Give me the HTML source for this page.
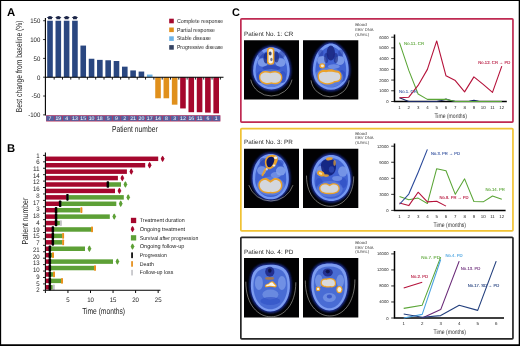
<!DOCTYPE html>
<html lang="en"><head><meta charset="utf-8"><title>Figure</title>
<style>html,body{margin:0;padding:0;background:#fff}body{width:520px;height:346px;overflow:hidden}svg{display:block}text{text-rendering:geometricPrecision;font-family:'Liberation Sans', sans-serif}</style>
</head><body>
<svg width="520" height="346" viewBox="0 0 520 346">
<defs>
<radialGradient id="head" cx="50%" cy="50%" r="50%"><stop offset="0" stop-color="#3e62d8"/><stop offset="0.55" stop-color="#3556cc"/><stop offset="0.8" stop-color="#5f86ee"/><stop offset="0.92" stop-color="#2f50c0"/><stop offset="1" stop-color="#0e1a66"/></radialGradient>
<filter id="b1" x="-20%" y="-20%" width="140%" height="140%"><feGaussianBlur stdDeviation="0.65"/></filter>
<filter id="b2" x="-20%" y="-20%" width="140%" height="140%"><feGaussianBlur stdDeviation="0.4"/></filter>
<filter id="b3" x="-20%" y="-20%" width="140%" height="140%"><feGaussianBlur stdDeviation="1.0"/></filter>
</defs>
<rect width="520" height="346" fill="#fff"/>
<g id="panelA">
<text transform="translate(7.0 15.8) scale(0.1)" font-size="114.0" fill="#000" font-weight="bold">A</text>
<rect x="47.20" y="20.73" width="5.6" height="56.48" fill="#2a4780"/>
<path d="M46.80 17.7 Q50.00 14.4 53.20 17.7 L52.00 18.0 L51.90 19.2 L48.10 19.2 L48.00 18.0 Z" fill="#1c2648"/>
<rect x="55.51" y="20.73" width="5.6" height="56.48" fill="#2a4780"/>
<path d="M55.11 17.7 Q58.31 14.4 61.51 17.7 L60.31 18.0 L60.21 19.2 L56.41 19.2 L56.31 18.0 Z" fill="#1c2648"/>
<rect x="63.82" y="20.73" width="5.6" height="56.48" fill="#2a4780"/>
<path d="M63.42 17.7 Q66.62 14.4 69.82 17.7 L68.62 18.0 L68.52 19.2 L64.72 19.2 L64.62 18.0 Z" fill="#1c2648"/>
<rect x="72.13" y="20.73" width="5.6" height="56.48" fill="#2a4780"/>
<path d="M71.73 17.7 Q74.93 14.4 78.13 17.7 L76.93 18.0 L76.83 19.2 L73.03 19.2 L72.93 18.0 Z" fill="#1c2648"/>
<rect x="80.44" y="45.57" width="5.6" height="31.63" fill="#2a4780"/>
<rect x="88.75" y="58.75" width="5.6" height="18.45" fill="#2a4780"/>
<rect x="97.06" y="59.88" width="5.6" height="17.32" fill="#2a4780"/>
<rect x="105.37" y="60.26" width="5.6" height="16.94" fill="#2a4780"/>
<rect x="113.68" y="61.01" width="5.6" height="16.19" fill="#2a4780"/>
<rect x="121.99" y="66.66" width="5.6" height="10.54" fill="#2a4780"/>
<rect x="130.30" y="70.42" width="5.6" height="6.78" fill="#2a4780"/>
<rect x="138.61" y="71.55" width="5.6" height="5.65" fill="#2a4780"/>
<rect x="146.92" y="74.56" width="5.6" height="2.64" fill="#6db3e6"/>
<rect x="155.23" y="77.20" width="5.6" height="21.08" fill="#e0901c"/>
<rect x="163.54" y="77.20" width="5.6" height="21.08" fill="#e0901c"/>
<rect x="171.85" y="77.20" width="5.6" height="27.48" fill="#e0901c"/>
<rect x="180.16" y="77.20" width="5.6" height="31.25" fill="#a5072d"/>
<rect x="188.47" y="77.20" width="5.6" height="35.01" fill="#a5072d"/>
<rect x="196.78" y="77.20" width="5.6" height="35.01" fill="#a5072d"/>
<rect x="205.09" y="77.20" width="5.6" height="35.39" fill="#a5072d"/>
<rect x="213.40" y="77.20" width="5.6" height="36.14" fill="#a5072d"/>
<path d="M45.4 18 V115.4 M45.4 77.2 H223.5" stroke="#000" stroke-width="1.1" fill="none"/>
<path d="M43.1 20.73 H45.4" stroke="#000" stroke-width="0.8"/>
<text transform="translate(40.3 23.08) scale(0.1)" font-size="66.0" fill="#222" text-anchor="end" textLength="101.3" lengthAdjust="spacingAndGlyphs">150</text>
<path d="M43.1 39.55 H45.4" stroke="#000" stroke-width="0.8"/>
<text transform="translate(40.3 41.9) scale(0.1)" font-size="66.0" fill="#222" text-anchor="end" textLength="101.3" lengthAdjust="spacingAndGlyphs">100</text>
<path d="M43.1 58.38 H45.4" stroke="#000" stroke-width="0.8"/>
<text transform="translate(40.3 60.73) scale(0.1)" font-size="66.0" fill="#222" text-anchor="end" textLength="67.5" lengthAdjust="spacingAndGlyphs">50</text>
<path d="M43.1 77.20 H45.4" stroke="#000" stroke-width="0.8"/>
<text transform="translate(40.3 79.55) scale(0.1)" font-size="66.0" fill="#222" text-anchor="end" textLength="33.8" lengthAdjust="spacingAndGlyphs">0</text>
<path d="M43.1 96.03 H45.4" stroke="#000" stroke-width="0.8"/>
<text transform="translate(40.3 98.38) scale(0.1)" font-size="66.0" fill="#222" text-anchor="end" textLength="87.7" lengthAdjust="spacingAndGlyphs">-50</text>
<path d="M43.1 114.85 H45.4" stroke="#000" stroke-width="0.8"/>
<text transform="translate(40.3 117.2) scale(0.1)" font-size="66.0" fill="#222" text-anchor="end" textLength="121.5" lengthAdjust="spacingAndGlyphs">-100</text>
<path d="M54.16 77.2 v2.4" stroke="#000" stroke-width="0.9"/>
<path d="M62.47 77.2 v2.4" stroke="#000" stroke-width="0.9"/>
<path d="M70.78 77.2 v2.4" stroke="#000" stroke-width="0.9"/>
<path d="M79.09 77.2 v2.4" stroke="#000" stroke-width="0.9"/>
<path d="M87.40 77.2 v2.4" stroke="#000" stroke-width="0.9"/>
<path d="M95.71 77.2 v2.4" stroke="#000" stroke-width="0.9"/>
<path d="M104.02 77.2 v2.4" stroke="#000" stroke-width="0.9"/>
<path d="M112.33 77.2 v2.4" stroke="#000" stroke-width="0.9"/>
<path d="M120.64 77.2 v2.4" stroke="#000" stroke-width="0.9"/>
<path d="M128.94 77.2 v2.4" stroke="#000" stroke-width="0.9"/>
<path d="M137.25 77.2 v2.4" stroke="#000" stroke-width="0.9"/>
<path d="M145.56 77.2 v2.4" stroke="#000" stroke-width="0.9"/>
<path d="M153.88 77.2 v2.4" stroke="#000" stroke-width="0.9"/>
<path d="M162.19 77.2 v2.4" stroke="#000" stroke-width="0.9"/>
<path d="M170.50 77.2 v2.4" stroke="#000" stroke-width="0.9"/>
<path d="M178.81 77.2 v2.4" stroke="#000" stroke-width="0.9"/>
<path d="M187.12 77.2 v2.4" stroke="#000" stroke-width="0.9"/>
<path d="M195.43 77.2 v2.4" stroke="#000" stroke-width="0.9"/>
<path d="M203.74 77.2 v2.4" stroke="#000" stroke-width="0.9"/>
<path d="M212.05 77.2 v2.4" stroke="#000" stroke-width="0.9"/>
<path d="M220.36 77.2 v2.4" stroke="#000" stroke-width="0.9"/>
<rect x="46.1" y="115.2" width="174.3" height="6.3" fill="#b8345f"/>
<rect x="46.30" y="115.8" width="7.61" height="5.1" fill="#56609f"/>
<text transform="translate(50.0 120.2) scale(0.1)" font-size="52.0" fill="#fff" text-anchor="middle">7</text>
<rect x="54.61" y="115.8" width="7.61" height="5.1" fill="#56609f"/>
<text transform="translate(58.31 120.2) scale(0.1)" font-size="52.0" fill="#fff" text-anchor="middle">19</text>
<rect x="62.92" y="115.8" width="7.61" height="5.1" fill="#56609f"/>
<text transform="translate(66.62 120.2) scale(0.1)" font-size="52.0" fill="#fff" text-anchor="middle">4</text>
<rect x="71.23" y="115.8" width="7.61" height="5.1" fill="#56609f"/>
<text transform="translate(74.93 120.2) scale(0.1)" font-size="52.0" fill="#fff" text-anchor="middle">13</text>
<rect x="79.54" y="115.8" width="7.61" height="5.1" fill="#56609f"/>
<text transform="translate(83.24 120.2) scale(0.1)" font-size="52.0" fill="#fff" text-anchor="middle">15</text>
<rect x="87.85" y="115.8" width="7.61" height="5.1" fill="#56609f"/>
<text transform="translate(91.55 120.2) scale(0.1)" font-size="52.0" fill="#fff" text-anchor="middle">10</text>
<rect x="96.16" y="115.8" width="7.61" height="5.1" fill="#56609f"/>
<text transform="translate(99.86 120.2) scale(0.1)" font-size="52.0" fill="#fff" text-anchor="middle">18</text>
<rect x="104.47" y="115.8" width="7.61" height="5.1" fill="#56609f"/>
<text transform="translate(108.17 120.2) scale(0.1)" font-size="52.0" fill="#fff" text-anchor="middle">5</text>
<rect x="112.78" y="115.8" width="7.61" height="5.1" fill="#56609f"/>
<text transform="translate(116.48 120.2) scale(0.1)" font-size="52.0" fill="#fff" text-anchor="middle">9</text>
<rect x="121.09" y="115.8" width="7.61" height="5.1" fill="#56609f"/>
<text transform="translate(124.79 120.2) scale(0.1)" font-size="52.0" fill="#fff" text-anchor="middle">2</text>
<rect x="129.40" y="115.8" width="7.61" height="5.1" fill="#56609f"/>
<text transform="translate(133.1 120.2) scale(0.1)" font-size="52.0" fill="#fff" text-anchor="middle">21</text>
<rect x="137.71" y="115.8" width="7.61" height="5.1" fill="#56609f"/>
<text transform="translate(141.41 120.2) scale(0.1)" font-size="52.0" fill="#fff" text-anchor="middle">20</text>
<rect x="146.01" y="115.8" width="7.61" height="5.1" fill="#56609f"/>
<text transform="translate(149.72 120.2) scale(0.1)" font-size="52.0" fill="#fff" text-anchor="middle">17</text>
<rect x="154.32" y="115.8" width="7.61" height="5.1" fill="#56609f"/>
<text transform="translate(158.03 120.2) scale(0.1)" font-size="52.0" fill="#fff" text-anchor="middle">14</text>
<rect x="162.63" y="115.8" width="7.61" height="5.1" fill="#56609f"/>
<text transform="translate(166.34 120.2) scale(0.1)" font-size="52.0" fill="#fff" text-anchor="middle">8</text>
<rect x="170.94" y="115.8" width="7.61" height="5.1" fill="#56609f"/>
<text transform="translate(174.65 120.2) scale(0.1)" font-size="52.0" fill="#fff" text-anchor="middle">3</text>
<rect x="179.25" y="115.8" width="7.61" height="5.1" fill="#56609f"/>
<text transform="translate(182.96 120.2) scale(0.1)" font-size="52.0" fill="#fff" text-anchor="middle">12</text>
<rect x="187.56" y="115.8" width="7.61" height="5.1" fill="#56609f"/>
<text transform="translate(191.27 120.2) scale(0.1)" font-size="52.0" fill="#fff" text-anchor="middle">16</text>
<rect x="195.88" y="115.8" width="7.61" height="5.1" fill="#56609f"/>
<text transform="translate(199.58 120.2) scale(0.1)" font-size="52.0" fill="#fff" text-anchor="middle">11</text>
<rect x="204.19" y="115.8" width="7.61" height="5.1" fill="#56609f"/>
<text transform="translate(207.89 120.2) scale(0.1)" font-size="52.0" fill="#fff" text-anchor="middle">6</text>
<rect x="212.50" y="115.8" width="7.61" height="5.1" fill="#56609f"/>
<text transform="translate(216.2 120.2) scale(0.1)" font-size="52.0" fill="#fff" text-anchor="middle">1</text>
<text transform="translate(134.8 131.5) scale(0.1)" font-size="88.0" fill="#222" text-anchor="middle" textLength="457.0" lengthAdjust="spacingAndGlyphs">Patient number</text>
<text transform="translate(22.1 66.4) rotate(-90) scale(0.1)" font-size="88.0" fill="#222" text-anchor="middle" textLength="916.0" lengthAdjust="spacingAndGlyphs">Best change from baseline (%)</text>
<rect x="169.2" y="18.70" width="4.6" height="4.6" fill="#a5072d"/>
<text transform="translate(176.9 22.8) scale(0.1)" font-size="58.0" fill="#222" textLength="463.0" lengthAdjust="spacingAndGlyphs">Complete response</text>
<rect x="169.2" y="27.50" width="4.6" height="4.6" fill="#e0901c"/>
<text transform="translate(176.9 31.6) scale(0.1)" font-size="58.0" fill="#222" textLength="380" lengthAdjust="spacingAndGlyphs">Partial response</text>
<rect x="169.2" y="36.30" width="4.6" height="4.6" fill="#6db3e6"/>
<text transform="translate(176.9 40.4) scale(0.1)" font-size="58.0" fill="#222" textLength="340" lengthAdjust="spacingAndGlyphs">Stable disease</text>
<rect x="169.2" y="45.10" width="4.6" height="4.6" fill="#364463"/>
<text transform="translate(176.9 49.2) scale(0.1)" font-size="58.0" fill="#222" textLength="463.0" lengthAdjust="spacingAndGlyphs">Progressive disease</text>
</g>
<g id="panelB">
<text transform="translate(7.0 151.9) scale(0.1)" font-size="113.0" fill="#000" font-weight="bold">B</text>
<rect x="45.4" y="156.55" width="112.80" height="4.5" fill="#a5072d"/>
<path d="M162.60 155.65 Q164.05 157.10 164.05 158.10 L164.75 158.80 L164.05 159.50 Q164.05 160.50 162.60 161.95 Q161.15 160.50 161.15 159.50 L160.70 158.80 L161.15 158.10 Q161.15 157.10 162.60 155.65 Z" fill="#a5072d"/>
<rect x="45.4" y="162.98" width="99.80" height="4.5" fill="#a5072d"/>
<path d="M149.60 162.08 Q151.05 163.53 151.05 164.53 L151.75 165.23 L151.05 165.93 Q151.05 166.93 149.60 168.38 Q148.15 166.93 148.15 165.93 L147.70 165.23 L148.15 164.53 Q148.15 163.53 149.60 162.08 Z" fill="#a5072d"/>
<rect x="45.4" y="169.40" width="81.50" height="4.5" fill="#a5072d"/>
<path d="M131.30 168.50 Q132.75 169.95 132.75 170.95 L133.45 171.65 L132.75 172.35 Q132.75 173.35 131.30 174.80 Q129.85 173.35 129.85 172.35 L129.40 171.65 L129.85 170.95 Q129.85 169.95 131.30 168.50 Z" fill="#a5072d"/>
<rect x="45.4" y="175.83" width="72.50" height="4.5" fill="#a5072d"/>
<path d="M122.30 174.93 Q123.75 176.38 123.75 177.38 L124.45 178.08 L123.75 178.78 Q123.75 179.78 122.30 181.23 Q120.85 179.78 120.85 178.78 L120.40 178.08 L120.85 177.38 Q120.85 176.38 122.30 174.93 Z" fill="#a5072d"/>
<rect x="45.4" y="182.25" width="61.60" height="4.5" fill="#a5072d"/>
<rect x="108.80" y="182.25" width="12.20" height="4.5" fill="#5da036"/>
<path d="M125.40 181.35 Q126.85 182.80 126.85 183.80 L127.55 184.50 L126.85 185.20 Q126.85 186.20 125.40 187.65 Q123.95 186.20 123.95 185.20 L123.50 184.50 L123.95 183.80 Q123.95 182.80 125.40 181.35 Z" fill="#5da036"/>
<rect x="45.4" y="188.68" width="69.60" height="4.5" fill="#a5072d"/>
<path d="M119.40 187.78 Q120.85 189.23 120.85 190.23 L121.55 190.93 L120.85 191.62 Q120.85 192.62 119.40 194.08 Q117.95 192.62 117.95 191.62 L117.50 190.93 L117.95 190.23 Q117.95 189.23 119.40 187.78 Z" fill="#a5072d"/>
<rect x="45.4" y="195.10" width="21.20" height="4.5" fill="#a5072d"/>
<rect x="68.40" y="195.10" width="55.40" height="4.5" fill="#5da036"/>
<path d="M128.20 194.20 Q129.65 195.65 129.65 196.65 L130.35 197.35 L129.65 198.05 Q129.65 199.05 128.20 200.50 Q126.75 199.05 126.75 198.05 L126.30 197.35 L126.75 196.65 Q126.75 195.65 128.20 194.20 Z" fill="#5da036"/>
<rect x="45.4" y="201.53" width="13.90" height="4.5" fill="#a5072d"/>
<rect x="61.10" y="201.53" width="55.20" height="4.5" fill="#5da036"/>
<path d="M120.70 200.62 Q122.15 202.08 122.15 203.08 L122.85 203.78 L122.15 204.47 Q122.15 205.47 120.70 206.93 Q119.25 205.47 119.25 204.47 L118.80 203.78 L119.25 203.08 Q119.25 202.08 120.70 200.62 Z" fill="#5da036"/>
<rect x="45.4" y="207.95" width="9.80" height="4.5" fill="#a5072d"/>
<rect x="57.00" y="207.95" width="23.40" height="4.5" fill="#5da036"/>
<rect x="80.40" y="207.35" width="2.0" height="5.7" rx="0.7" fill="#e8901a"/>
<rect x="45.4" y="214.38" width="9.80" height="4.5" fill="#a5072d"/>
<rect x="57.00" y="214.38" width="52.80" height="4.5" fill="#5da036"/>
<path d="M114.20 213.47 Q115.65 214.93 115.65 215.93 L116.35 216.62 L115.65 217.32 Q115.65 218.32 114.20 219.78 Q112.75 218.32 112.75 217.32 L112.30 216.62 L112.75 215.93 Q112.75 214.93 114.20 213.47 Z" fill="#5da036"/>
<rect x="45.4" y="220.80" width="9.80" height="4.5" fill="#a5072d"/>
<rect x="57.00" y="220.80" width="2.90" height="4.5" fill="#5da036"/>
<rect x="59.90" y="220.20" width="2.0" height="5.7" rx="0.7" fill="#c4c4c8"/>
<rect x="45.4" y="227.22" width="6.60" height="4.5" fill="#a5072d"/>
<rect x="53.80" y="227.22" width="37.20" height="4.5" fill="#5da036"/>
<rect x="91.00" y="226.62" width="2.0" height="5.7" rx="0.7" fill="#e8901a"/>
<rect x="45.4" y="233.65" width="6.60" height="4.5" fill="#a5072d"/>
<rect x="53.80" y="233.65" width="8.30" height="4.5" fill="#5da036"/>
<rect x="62.10" y="233.05" width="2.0" height="5.7" rx="0.7" fill="#e8901a"/>
<rect x="45.4" y="240.08" width="6.60" height="4.5" fill="#a5072d"/>
<rect x="53.80" y="240.08" width="8.30" height="4.5" fill="#5da036"/>
<rect x="62.10" y="239.48" width="2.0" height="5.7" rx="0.7" fill="#e8901a"/>
<rect x="45.4" y="246.50" width="3.60" height="4.5" fill="#a5072d"/>
<rect x="50.80" y="246.50" width="34.20" height="4.5" fill="#5da036"/>
<path d="M89.40 245.60 Q90.85 247.05 90.85 248.05 L91.55 248.75 L90.85 249.45 Q90.85 250.45 89.40 251.90 Q87.95 250.45 87.95 249.45 L87.50 248.75 L87.95 248.05 Q87.95 247.05 89.40 245.60 Z" fill="#5da036"/>
<rect x="45.4" y="252.93" width="3.60" height="4.5" fill="#a5072d"/>
<rect x="50.80" y="252.93" width="1.20" height="4.5" fill="#5da036"/>
<rect x="52.00" y="252.33" width="2.0" height="5.7" rx="0.7" fill="#e8901a"/>
<rect x="45.4" y="259.35" width="3.60" height="4.5" fill="#a5072d"/>
<rect x="50.80" y="259.35" width="62.20" height="4.5" fill="#5da036"/>
<path d="M117.40 258.45 Q118.85 259.90 118.85 260.90 L119.55 261.60 L118.85 262.30 Q118.85 263.30 117.40 264.75 Q115.95 263.30 115.95 262.30 L115.50 261.60 L115.95 260.90 Q115.95 259.90 117.40 258.45 Z" fill="#5da036"/>
<rect x="45.4" y="265.77" width="3.60" height="4.5" fill="#a5072d"/>
<rect x="50.80" y="265.77" width="43.20" height="4.5" fill="#5da036"/>
<rect x="94.00" y="265.17" width="2.0" height="5.7" rx="0.7" fill="#e8901a"/>
<rect x="45.4" y="272.20" width="3.60" height="4.5" fill="#a5072d"/>
<rect x="50.80" y="272.20" width="2.20" height="4.5" fill="#5da036"/>
<rect x="53.00" y="271.60" width="2.0" height="5.7" rx="0.7" fill="#e8901a"/>
<rect x="45.4" y="278.62" width="3.60" height="4.5" fill="#a5072d"/>
<rect x="50.80" y="278.62" width="10.20" height="4.5" fill="#5da036"/>
<rect x="61.00" y="278.02" width="2.0" height="5.7" rx="0.7" fill="#e8901a"/>
<rect x="45.4" y="285.05" width="3.60" height="4.5" fill="#a5072d"/>
<rect x="50.80" y="285.05" width="2.00" height="4.5" fill="#5da036"/>
<rect x="52.80" y="284.45" width="2.0" height="5.7" rx="0.7" fill="#c4c4c8"/>
<rect x="106.60" y="181.20" width="2.5" height="6.62" rx="0.8" fill="#000"/>
<rect x="66.20" y="194.05" width="2.5" height="6.62" rx="0.8" fill="#000"/>
<rect x="58.90" y="200.47" width="2.5" height="6.62" rx="0.8" fill="#000"/>
<rect x="54.80" y="206.90" width="2.5" height="6.62" rx="0.8" fill="#000"/>
<rect x="54.80" y="213.32" width="2.5" height="6.62" rx="0.8" fill="#000"/>
<rect x="54.80" y="219.75" width="2.5" height="6.62" rx="0.8" fill="#000"/>
<rect x="51.60" y="226.17" width="2.5" height="6.62" rx="0.8" fill="#000"/>
<rect x="51.60" y="232.60" width="2.5" height="6.62" rx="0.8" fill="#000"/>
<rect x="51.60" y="239.03" width="2.5" height="6.62" rx="0.8" fill="#000"/>
<rect x="48.60" y="245.45" width="2.5" height="6.62" rx="0.8" fill="#000"/>
<rect x="48.60" y="251.88" width="2.5" height="6.62" rx="0.8" fill="#000"/>
<rect x="48.60" y="258.30" width="2.5" height="6.62" rx="0.8" fill="#000"/>
<rect x="48.60" y="264.73" width="2.5" height="6.62" rx="0.8" fill="#000"/>
<rect x="48.60" y="271.15" width="2.5" height="6.62" rx="0.8" fill="#000"/>
<rect x="48.60" y="277.58" width="2.5" height="6.62" rx="0.8" fill="#000"/>
<rect x="48.60" y="284.00" width="2.5" height="6.62" rx="0.8" fill="#000"/>
<path d="M45.4 152.5 V290.32 H160.5" stroke="#000" stroke-width="1.05" fill="none"/>
<path d="M43.0 155.40 H45.4" stroke="#000" stroke-width="0.85"/>
<path d="M43.0 161.83 H45.4" stroke="#000" stroke-width="0.85"/>
<path d="M43.0 168.25 H45.4" stroke="#000" stroke-width="0.85"/>
<path d="M43.0 174.68 H45.4" stroke="#000" stroke-width="0.85"/>
<path d="M43.0 181.10 H45.4" stroke="#000" stroke-width="0.85"/>
<path d="M43.0 187.53 H45.4" stroke="#000" stroke-width="0.85"/>
<path d="M43.0 193.95 H45.4" stroke="#000" stroke-width="0.85"/>
<path d="M43.0 200.38 H45.4" stroke="#000" stroke-width="0.85"/>
<path d="M43.0 206.80 H45.4" stroke="#000" stroke-width="0.85"/>
<path d="M43.0 213.22 H45.4" stroke="#000" stroke-width="0.85"/>
<path d="M43.0 219.65 H45.4" stroke="#000" stroke-width="0.85"/>
<path d="M43.0 226.07 H45.4" stroke="#000" stroke-width="0.85"/>
<path d="M43.0 232.50 H45.4" stroke="#000" stroke-width="0.85"/>
<path d="M43.0 238.93 H45.4" stroke="#000" stroke-width="0.85"/>
<path d="M43.0 245.35 H45.4" stroke="#000" stroke-width="0.85"/>
<path d="M43.0 251.78 H45.4" stroke="#000" stroke-width="0.85"/>
<path d="M43.0 258.20 H45.4" stroke="#000" stroke-width="0.85"/>
<path d="M43.0 264.62 H45.4" stroke="#000" stroke-width="0.85"/>
<path d="M43.0 271.05 H45.4" stroke="#000" stroke-width="0.85"/>
<path d="M43.0 277.48 H45.4" stroke="#000" stroke-width="0.85"/>
<path d="M43.0 283.90 H45.4" stroke="#000" stroke-width="0.85"/>
<path d="M43.0 290.32 H45.4" stroke="#000" stroke-width="0.85"/>
<text transform="translate(39.699999999999996 157.5) scale(0.1)" font-size="66.0" fill="#222" text-anchor="end" textLength="33.8" lengthAdjust="spacingAndGlyphs">1</text>
<text transform="translate(39.699999999999996 164.25) scale(0.1)" font-size="66.0" fill="#222" text-anchor="end" textLength="33.8" lengthAdjust="spacingAndGlyphs">6</text>
<text transform="translate(39.699999999999996 170.99) scale(0.1)" font-size="66.0" fill="#222" text-anchor="end" textLength="67.5" lengthAdjust="spacingAndGlyphs">11</text>
<text transform="translate(39.699999999999996 177.73) scale(0.1)" font-size="66.0" fill="#222" text-anchor="end" textLength="67.5" lengthAdjust="spacingAndGlyphs">14</text>
<text transform="translate(39.699999999999996 184.48) scale(0.1)" font-size="66.0" fill="#222" text-anchor="end" textLength="67.5" lengthAdjust="spacingAndGlyphs">12</text>
<text transform="translate(39.699999999999996 191.22) scale(0.1)" font-size="66.0" fill="#222" text-anchor="end" textLength="67.5" lengthAdjust="spacingAndGlyphs">16</text>
<text transform="translate(39.699999999999996 197.97) scale(0.1)" font-size="66.0" fill="#222" text-anchor="end" textLength="33.8" lengthAdjust="spacingAndGlyphs">8</text>
<text transform="translate(39.699999999999996 204.72) scale(0.1)" font-size="66.0" fill="#222" text-anchor="end" textLength="67.5" lengthAdjust="spacingAndGlyphs">17</text>
<text transform="translate(39.699999999999996 211.46) scale(0.1)" font-size="66.0" fill="#222" text-anchor="end" textLength="33.8" lengthAdjust="spacingAndGlyphs">3</text>
<text transform="translate(39.699999999999996 218.21) scale(0.1)" font-size="66.0" fill="#222" text-anchor="end" textLength="67.5" lengthAdjust="spacingAndGlyphs">18</text>
<text transform="translate(39.699999999999996 224.95) scale(0.1)" font-size="66.0" fill="#222" text-anchor="end" textLength="33.8" lengthAdjust="spacingAndGlyphs">4</text>
<text transform="translate(39.699999999999996 231.7) scale(0.1)" font-size="66.0" fill="#222" text-anchor="end" textLength="67.5" lengthAdjust="spacingAndGlyphs">19</text>
<text transform="translate(39.699999999999996 238.44) scale(0.1)" font-size="66.0" fill="#222" text-anchor="end" textLength="67.5" lengthAdjust="spacingAndGlyphs">15</text>
<text transform="translate(39.699999999999996 245.19) scale(0.1)" font-size="66.0" fill="#222" text-anchor="end" textLength="33.8" lengthAdjust="spacingAndGlyphs">7</text>
<text transform="translate(39.699999999999996 251.93) scale(0.1)" font-size="66.0" fill="#222" text-anchor="end" textLength="67.5" lengthAdjust="spacingAndGlyphs">21</text>
<text transform="translate(39.699999999999996 258.68) scale(0.1)" font-size="66.0" fill="#222" text-anchor="end" textLength="67.5" lengthAdjust="spacingAndGlyphs">20</text>
<text transform="translate(39.699999999999996 265.42) scale(0.1)" font-size="66.0" fill="#222" text-anchor="end" textLength="67.5" lengthAdjust="spacingAndGlyphs">13</text>
<text transform="translate(39.699999999999996 272.17) scale(0.1)" font-size="66.0" fill="#222" text-anchor="end" textLength="67.5" lengthAdjust="spacingAndGlyphs">10</text>
<text transform="translate(39.699999999999996 278.91) scale(0.1)" font-size="66.0" fill="#222" text-anchor="end" textLength="33.8" lengthAdjust="spacingAndGlyphs">9</text>
<text transform="translate(39.699999999999996 285.66) scale(0.1)" font-size="66.0" fill="#222" text-anchor="end" textLength="33.8" lengthAdjust="spacingAndGlyphs">5</text>
<text transform="translate(39.699999999999996 292.4) scale(0.1)" font-size="66.0" fill="#222" text-anchor="end" textLength="33.8" lengthAdjust="spacingAndGlyphs">2</text>
<path d="M45.40 290.32 v2.7" stroke="#000" stroke-width="0.95"/>
<path d="M67.95 290.32 v2.7" stroke="#000" stroke-width="0.95"/>
<text transform="translate(67.95 301.93) scale(0.1)" font-size="66.0" fill="#222" text-anchor="middle" textLength="33.8" lengthAdjust="spacingAndGlyphs">5</text>
<path d="M90.50 290.32 v2.7" stroke="#000" stroke-width="0.95"/>
<text transform="translate(90.5 301.93) scale(0.1)" font-size="66.0" fill="#222" text-anchor="middle" textLength="67.5" lengthAdjust="spacingAndGlyphs">10</text>
<path d="M113.05 290.32 v2.7" stroke="#000" stroke-width="0.95"/>
<text transform="translate(113.05 301.93) scale(0.1)" font-size="66.0" fill="#222" text-anchor="middle" textLength="67.5" lengthAdjust="spacingAndGlyphs">15</text>
<path d="M135.60 290.32 v2.7" stroke="#000" stroke-width="0.95"/>
<text transform="translate(135.6 301.93) scale(0.1)" font-size="66.0" fill="#222" text-anchor="middle" textLength="67.5" lengthAdjust="spacingAndGlyphs">20</text>
<path d="M158.15 290.32 v2.7" stroke="#000" stroke-width="0.95"/>
<text transform="translate(158.15 301.93) scale(0.1)" font-size="66.0" fill="#222" text-anchor="middle" textLength="67.5" lengthAdjust="spacingAndGlyphs">25</text>
<text transform="translate(103.6 313.5) scale(0.1)" font-size="88.0" fill="#222" text-anchor="middle" textLength="429.0" lengthAdjust="spacingAndGlyphs">Time (months)</text>
<text transform="translate(27.9 221.2) rotate(-90) scale(0.1)" font-size="88.0" fill="#222" text-anchor="middle" textLength="468.0" lengthAdjust="spacingAndGlyphs">Patient number</text>
<rect x="130.9" y="217.80" width="5.3" height="5.3" fill="#a5072d"/>
<text transform="translate(139.8 222.2) scale(0.1)" font-size="56.0" fill="#222" textLength="448.0" lengthAdjust="spacingAndGlyphs">Treatment duration</text>
<path d="M132.50 226.00 Q133.95 227.45 133.95 228.45 L134.65 229.15 L133.95 229.85 Q133.95 230.85 132.50 232.30 Q131.05 230.85 131.05 229.85 L130.60 229.15 L131.05 228.45 Q131.05 227.45 132.50 226.00 Z" fill="#a5072d"/>
<text transform="translate(139.8 230.9) scale(0.1)" font-size="56.0" fill="#222" textLength="452.0" lengthAdjust="spacingAndGlyphs">Ongoing treatment</text>
<rect x="130.9" y="235.20" width="5.3" height="5.3" fill="#5da036"/>
<text transform="translate(139.8 239.6) scale(0.1)" font-size="56.0" fill="#222" textLength="585.0" lengthAdjust="spacingAndGlyphs">Survival after progression</text>
<path d="M132.50 243.40 Q133.95 244.85 133.95 245.85 L134.65 246.55 L133.95 247.25 Q133.95 248.25 132.50 249.70 Q131.05 248.25 131.05 247.25 L130.60 246.55 L131.05 245.85 Q131.05 244.85 132.50 243.40 Z" fill="#5da036"/>
<text transform="translate(139.8 248.3) scale(0.1)" font-size="56.0" fill="#222" textLength="445.0" lengthAdjust="spacingAndGlyphs">Ongoing follow-up</text>
<rect x="131.20000000000002" y="252.35" width="1.7" height="5.8" rx="0.6" fill="#000"/>
<text transform="translate(139.8 257.0) scale(0.1)" font-size="56.0" fill="#222" textLength="270" lengthAdjust="spacingAndGlyphs">Progression</text>
<rect x="131.20000000000002" y="261.05" width="1.7" height="5.8" rx="0.6" fill="#e48b14"/>
<text transform="translate(139.8 265.7) scale(0.1)" font-size="56.0" fill="#222" textLength="140" lengthAdjust="spacingAndGlyphs">Death</text>
<rect x="131.20000000000002" y="269.75" width="1.7" height="5.8" rx="0.6" fill="#c4c4c8"/>
<text transform="translate(139.8 274.4) scale(0.1)" font-size="56.0" fill="#222" textLength="335.0" lengthAdjust="spacingAndGlyphs">Follow-up loss</text>
</g>
<g id="panelC">
<text transform="translate(232.1 15.8) scale(0.1)" font-size="110.0" fill="#000" font-weight="bold">C</text>
<rect x="240.85" y="18.95" width="272.1" height="103.20" rx="0.9" fill="#fff" stroke="#bf2a52" stroke-width="1.7"/>
<text transform="translate(244.0 35.6) scale(0.1)" font-size="63.0" fill="#2a2a2a" textLength="493.0" lengthAdjust="spacingAndGlyphs">Patient No. 1: CR</text>
<svg x="244.0" y="40.2" width="55.0" height="59.4" viewBox="244.0 40.2 55.0 59.4">
<rect x="243.0" y="39.2" width="57.0" height="61.4" fill="#020203"/>
<g filter="url(#b3)">
<path d="M251.60 71.00 C251.60 55.38 261.10 45.80 271.40 45.80 C281.70 45.80 291.20 55.38 291.20 71.00 C291.20 81.99 282.34 90.90 271.40 90.90 C260.46 90.90 251.60 81.99 251.60 71.00 Z" fill="#1a2e96"/>
</g>
<g filter="url(#b1)">
<path d="M253.10 71.00 C253.10 56.31 261.88 47.30 271.40 47.30 C280.92 47.30 289.70 56.31 289.70 71.00 C289.70 81.16 281.51 89.40 271.40 89.40 C261.29 89.40 253.10 81.16 253.10 71.00 Z" fill="#7598f2"/>
<path d="M255.60 71.40 C255.60 58.38 263.18 50.40 271.40 50.40 C279.62 50.40 287.20 58.38 287.20 71.40 C287.20 80.07 280.13 87.10 271.40 87.10 C262.67 87.10 255.60 80.07 255.60 71.40 Z" fill="#3f62d2"/>
</g>
<g filter="url(#b2)">
<ellipse cx="262.9" cy="62.5" rx="5.2" ry="4.2" fill="#8aa8ee" opacity="0.8"/>
<ellipse cx="280.4" cy="62.5" rx="5.2" ry="4.2" fill="#8aa8ee" opacity="0.8"/>
<ellipse cx="266.4" cy="58" rx="3" ry="5.5" fill="#16237e" opacity="0.75"/>
<ellipse cx="276.4" cy="57" rx="2.6" ry="5.5" fill="#16237e" opacity="0.7"/>
<ellipse cx="271.4" cy="68" rx="9" ry="3" fill="#2a44b4" opacity="0.7"/>
<ellipse cx="271.4" cy="78.5" rx="14.5" ry="9.5" fill="#8aa8ee" opacity="0.35"/>
<ellipse cx="260.9" cy="54.5" rx="3" ry="3.5" fill="#2338a0" opacity="0.5"/>
<ellipse cx="281.9" cy="54.5" rx="3" ry="3.5" fill="#2338a0" opacity="0.5"/>
<ellipse cx="260.4" cy="77" rx="4" ry="6" fill="#2f4fc4" opacity="0.8"/>
<ellipse cx="282.4" cy="77" rx="4" ry="6" fill="#2f4fc4" opacity="0.8"/>
<g transform="translate(270.7 77.8) scale(1.07 1.1) translate(-270.7 -78.1)">
<path d="M259.8 77.5 C259.8 72.5 265 71 270.2 72.6 C275 71 281.6 72.5 281.6 77.8 C281.6 83 276 85 271.4 83.6 C266 85.4 259.8 83 259.8 77.5 Z" fill="#eaa22c"/>
<path d="M261.0 77.6 C261.0 73.8 265.4 72.4 270.2 74.0 C274.8 72.4 280.4 73.8 280.4 77.8 C280.4 81.8 276 83.6 271.4 82.2 C266.4 84.0 261.0 81.8 261.0 77.6 Z" fill="#d4d7dc"/>
</g>
<rect x="267.0" y="47.4" width="7.4" height="17.4" rx="3.2" fill="#eaa22c"/>
<rect x="268.5" y="48.8" width="4.4" height="14.6" rx="2" fill="#f4f1ea"/>
<ellipse cx="270.2" cy="53.5" rx="1.4" ry="2.0" fill="#2a2f55" opacity="0.85"/>
<ellipse cx="271.4" cy="59.5" rx="1.1" ry="1.8" fill="#3a3f60" opacity="0.7"/>
</g>
<path d="M250.7 79.6 A21.2 21.2 0 0 0 292.0 79.6" stroke="#dcdcd6" stroke-width="0.55" fill="none" opacity="0.9"/>
</svg>
<svg x="303.0" y="40.2" width="55.3" height="59.4" viewBox="303.0 40.2 55.3 59.4">
<rect x="302.0" y="39.2" width="57.3" height="61.4" fill="#020203"/>
<g filter="url(#b3)">
<path d="M311.40 70.50 C311.40 52.83 322.26 42.00 330.80 42.00 C339.34 42.00 350.20 52.83 350.20 70.50 C350.20 81.99 341.51 91.30 330.80 91.30 C320.09 91.30 311.40 81.99 311.40 70.50 Z" fill="#1a2e96"/>
</g>
<g filter="url(#b1)">
<path d="M312.90 70.50 C312.90 53.76 322.92 43.50 330.80 43.50 C338.68 43.50 348.70 53.76 348.70 70.50 C348.70 81.16 340.69 89.80 330.80 89.80 C320.91 89.80 312.90 81.16 312.90 70.50 Z" fill="#7598f2"/>
<path d="M315.40 70.90 C315.40 55.83 324.02 46.60 330.80 46.60 C337.58 46.60 346.20 55.83 346.20 70.90 C346.20 80.07 339.31 87.50 330.80 87.50 C322.29 87.50 315.40 80.07 315.40 70.90 Z" fill="#3f62d2"/>
</g>
<g filter="url(#b2)">
<ellipse cx="321.8" cy="60.5" rx="4.6" ry="4.5" fill="#8aa8ee" opacity="0.8"/>
<ellipse cx="339.8" cy="60.5" rx="4.6" ry="4.5" fill="#8aa8ee" opacity="0.8"/>
<ellipse cx="330.8" cy="53" rx="4.2" ry="7.5" fill="#16237e" opacity="0.85"/>
<ellipse cx="326.3" cy="58" rx="2.2" ry="5" fill="#16237e" opacity="0.6"/>
<ellipse cx="335.8" cy="58" rx="2.2" ry="5" fill="#16237e" opacity="0.6"/>
<ellipse cx="341.8" cy="76" rx="4" ry="6" fill="#2f4fc4" opacity="0.8"/>
<ellipse cx="333.8" cy="66.5" rx="6" ry="2.2" fill="#8aa8ee" opacity="0.6"/>
<ellipse cx="328.8" cy="77.5" rx="14.5" ry="10" fill="#8aa8ee" opacity="0.35"/>
<ellipse cx="320.8" cy="53" rx="2.6" ry="3.5" fill="#2338a0" opacity="0.5"/>
<ellipse cx="340.8" cy="53" rx="2.6" ry="3.5" fill="#2338a0" opacity="0.5"/>
<path d="M317.6 76.5 C317.2 71.5 322 68.6 326.5 70.0 C330 68.4 334 69.6 336 70.6 C340 70.6 341.8 73.5 341.6 77 C341.6 81 338 82.6 334.5 82.4 C332 84.6 326 85.4 322.6 83.4 C319 82.6 317.8 80 317.6 76.5 Z" fill="#eaa22c"/>
<path d="M318.9 76.6 C318.6 73.4 322 71.4 326 72.2 C330 71.2 334 72.0 336 72.4 C339 72.4 340.4 74.4 340.3 77 C340.2 80 337.6 81.2 334.2 81.0 C331.6 83.2 326.4 84.0 323.2 82.2 C320.2 81.6 319.0 79.4 318.9 76.6 Z" fill="#d4d7dc"/>
<ellipse cx="322.2" cy="65.8" rx="2.9" ry="2.6" fill="#eaa22c"/>
<ellipse cx="322.4" cy="65.8" rx="1.6" ry="1.4" fill="#efe9d6"/>
</g>
<path d="M311.0 80.3 A19.3 19.3 0 0 0 349.2 80.3" stroke="#dcdcd6" stroke-width="0.55" fill="none" opacity="0.9"/>
</svg>
<text transform="translate(355.3 25.9) scale(0.1)" font-size="42.0" fill="#444" textLength="115.0" lengthAdjust="spacingAndGlyphs">Blood</text>
<text transform="translate(355.3 30.8) scale(0.1)" font-size="42.0" fill="#444" textLength="181.0" lengthAdjust="spacingAndGlyphs">EBV DNA</text>
<text transform="translate(355.3 35.7) scale(0.1)" font-size="42.0" fill="#444" textLength="139.0" lengthAdjust="spacingAndGlyphs">(IU/mL)</text>
<rect x="240.85" y="128.65" width="272.1" height="102.20" rx="0.9" fill="#fff" stroke="#f0c234" stroke-width="1.7"/>
<text transform="translate(244.0 144.1) scale(0.1)" font-size="63.0" fill="#2a2a2a" textLength="488.0" lengthAdjust="spacingAndGlyphs">Patient No. 3: PR</text>
<svg x="244.0" y="148.7" width="55.0" height="59.4" viewBox="244.0 148.7 55.0 59.4">
<rect x="243.0" y="147.7" width="57.0" height="61.4" fill="#020203"/>
<g filter="url(#b3)">
<path d="M251.10 179.00 C251.10 162.57 259.92 152.50 270.70 152.50 C281.48 152.50 290.30 162.57 290.30 179.00 C290.30 191.04 281.53 200.80 270.70 200.80 C259.87 200.80 251.10 191.04 251.10 179.00 Z" fill="#1a2e96"/>
</g>
<g filter="url(#b1)">
<path d="M252.60 179.00 C252.60 163.50 260.75 154.00 270.70 154.00 C280.65 154.00 288.80 163.50 288.80 179.00 C288.80 190.21 280.70 199.30 270.70 199.30 C260.70 199.30 252.60 190.21 252.60 179.00 Z" fill="#7598f2"/>
<path d="M255.10 179.40 C255.10 165.57 262.12 157.10 270.70 157.10 C279.28 157.10 286.30 165.57 286.30 179.40 C286.30 189.12 279.32 197.00 270.70 197.00 C262.08 197.00 255.10 189.12 255.10 179.40 Z" fill="#3f62d2"/>
</g>
<g filter="url(#b2)">
<ellipse cx="261.7" cy="170.5" rx="4.6" ry="4.2" fill="#8aa8ee" opacity="0.7"/>
<ellipse cx="280.7" cy="171" rx="4.8" ry="4.6" fill="#8aa8ee" opacity="0.8"/>
<ellipse cx="280.2" cy="163" rx="3.5" ry="3" fill="#2f4fc4" opacity="0.7"/>
<ellipse cx="275.7" cy="175" rx="5" ry="3" fill="#8aa8ee" opacity="0.6"/>
<ellipse cx="270.7" cy="186" rx="14" ry="9.5" fill="#8aa8ee" opacity="0.35"/>
<ellipse cx="262.7" cy="162" rx="3" ry="4" fill="#2338a0" opacity="0.5"/>
<path d="M266.0 168.6 C264.4 171 263.4 173.4 262.4 175.2" stroke="#eaa22c" stroke-width="2.0" fill="none" stroke-linecap="round" opacity="0.9"/>
<path d="M265.0 163.8 C264.0 158.4 268 154.6 272.6 154.8 C277.0 154.8 279.0 157.8 277.2 161.8 C275.8 165.2 274 167.8 270.6 169.0 C267.4 170.0 265.6 167.6 265.0 163.8 Z" fill="#eaa22c"/>
<path d="M266.6 163.4 C266.0 159.6 268.4 156.6 271.4 156.8 C274.2 157.0 275.0 159.4 273.8 162.2 C272.8 164.8 271.6 166.8 269.6 167.2 C267.8 167.4 267.0 165.8 266.6 163.4 Z" fill="#0e175e"/>
<ellipse cx="275.6" cy="157.8" rx="1.7" ry="1.2" fill="#f4f1ea"/>
<ellipse cx="274.0" cy="165.4" rx="1.4" ry="1.0" fill="#f4f1ea" opacity="0.9"/>
<ellipse cx="266.8" cy="169.2" rx="1.0" ry="1.3" fill="#f4f1ea" opacity="0.7"/>
<path d="M258.4 185.8 C258.0 180.2 263.2 176.8 267.4 178.4 L270.4 180.4 L273.4 178.4 C277.8 176.8 282.8 180.2 282.4 185.8 C282.2 191.2 276.4 194.2 270.8 193.2 C264.4 194.4 258.6 191.2 258.4 185.8 Z" fill="#eaa22c"/>
<path d="M259.8 185.8 C259.5 181.6 263.5 179.0 267.0 180.4 L270.4 182.8 L273.8 180.4 C277.4 179.0 281.3 181.6 281.0 185.8 C280.8 190.0 276.0 192.7 270.8 191.7 C265.2 192.9 260.0 190.2 259.8 185.8 Z" fill="#d4d7dc"/>
</g>
<path d="M248.8 185.1 A23.3 23.3 0 0 0 293.0 185.1" stroke="#dcdcd6" stroke-width="0.55" fill="none" opacity="0.9"/>
</svg>
<svg x="303.0" y="148.7" width="55.3" height="59.4" viewBox="303.0 148.7 55.3 59.4">
<rect x="302.0" y="147.7" width="57.3" height="61.4" fill="#020203"/>
<g filter="url(#b3)">
<path d="M310.40 180.50 C310.40 163.76 319.76 153.50 331.20 153.50 C342.64 153.50 352.00 163.76 352.00 180.50 C352.00 192.65 342.69 202.50 331.20 202.50 C319.71 202.50 310.40 192.65 310.40 180.50 Z" fill="#1a2e96"/>
</g>
<g filter="url(#b1)">
<path d="M311.90 180.50 C311.90 164.69 320.58 155.00 331.20 155.00 C341.81 155.00 350.50 164.69 350.50 180.50 C350.50 191.82 341.86 201.00 331.20 201.00 C320.54 201.00 311.90 191.82 311.90 180.50 Z" fill="#7598f2"/>
<path d="M314.40 180.90 C314.40 166.76 321.96 158.10 331.20 158.10 C340.44 158.10 348.00 166.76 348.00 180.90 C348.00 190.73 340.48 198.70 331.20 198.70 C321.92 198.70 314.40 190.73 314.40 180.90 Z" fill="#3f62d2"/>
</g>
<g filter="url(#b2)">
<ellipse cx="320.2" cy="171" rx="4" ry="5" fill="#8aa8ee" opacity="0.7"/>
<ellipse cx="342.7" cy="171.5" rx="4.6" ry="5.2" fill="#8aa8ee" opacity="0.7"/>
<ellipse cx="343.2" cy="183" rx="3.6" ry="5" fill="#2f4fc4" opacity="0.7"/>
<ellipse cx="319.2" cy="183" rx="3.6" ry="5" fill="#2f4fc4" opacity="0.7"/>
<ellipse cx="337.2" cy="178.5" rx="5" ry="2.4" fill="#8aa8ee" opacity="0.6"/>
<ellipse cx="329.7" cy="189" rx="13" ry="8" fill="#8aa8ee" opacity="0.3"/>
<path d="M321.0 166 C320.6 160.8 325 158.6 329 159.4 C333 158.4 336.4 161 336 166.4 C336.2 171.6 333 176 328.4 175.6 C324 175.6 321.2 171.4 321.0 166 Z" fill="#13207a" opacity="0.88"/>
<ellipse cx="331.5" cy="169.5" rx="2.6" ry="3.2" fill="#3556c4" opacity="0.55"/>
<ellipse cx="329.4" cy="158.8" rx="3.4" ry="1.5" fill="#eaa22c" opacity="0.95" transform="rotate(-10 329.4 158.8)"/>
<ellipse cx="334.6" cy="163" rx="1.3" ry="3" fill="#eaa22c" opacity="0.7"/>
<ellipse cx="320.8" cy="173.6" rx="3.8" ry="2.6" fill="#eaa22c" transform="rotate(25 320.8 173.6)"/>
<ellipse cx="326" cy="175.6" rx="3" ry="1.4" fill="#eaa22c" opacity="0.85"/>
<ellipse cx="320.6" cy="173.4" rx="1.8" ry="1.1" fill="#f1e2b8" opacity="0.9" transform="rotate(25 320.6 173.4)"/>
<path d="M319.2 188.6 C319.0 184.6 323.4 182.4 327.4 183.4 L329.6 184.4 L331.8 183.4 C335.8 182.4 340.0 184.6 339.8 188.6 C339.6 192.6 335.4 194.6 329.6 194.2 C323.6 194.6 319.4 192.6 319.2 188.6 Z" fill="#eaa22c"/>
<path d="M320.5 188.6 C320.4 185.6 323.8 184.0 327.0 184.8 L329.6 186.2 L332.2 184.8 C335.4 184.0 338.6 185.6 338.5 188.6 C338.4 191.6 334.8 193.2 329.6 192.8 C324.2 193.2 320.6 191.6 320.5 188.6 Z" fill="#d4d7dc"/>
</g>
<path d="M306.5 175.6 C306.5 216.4 353.7 216.4 353.7 176.4" stroke="#dcdcd6" stroke-width="0.55" fill="none" opacity="0.9"/>
</svg>
<text transform="translate(355.3 134.5) scale(0.1)" font-size="42.0" fill="#444" textLength="115.0" lengthAdjust="spacingAndGlyphs">Blood</text>
<text transform="translate(355.3 139.4) scale(0.1)" font-size="42.0" fill="#444" textLength="181.0" lengthAdjust="spacingAndGlyphs">EBV DNA</text>
<text transform="translate(355.3 144.3) scale(0.1)" font-size="42.0" fill="#444" textLength="139.0" lengthAdjust="spacingAndGlyphs">(IU/mL)</text>
<rect x="240.85" y="237.35" width="272.1" height="101.60" rx="0.9" fill="#fff" stroke="#262626" stroke-width="1.7"/>
<text transform="translate(244.0 253.5) scale(0.1)" font-size="63.0" fill="#2a2a2a" textLength="493.0" lengthAdjust="spacingAndGlyphs">Patient No. 4: PD</text>
<svg x="244.0" y="258.1" width="55.0" height="59.4" viewBox="244.0 258.1 55.0 59.4">
<rect x="243.0" y="257.1" width="57.0" height="61.4" fill="#020203"/>
<g filter="url(#b3)">
<path d="M249.40 286.00 C249.40 271.86 253.60 263.20 270.40 263.20 C287.20 263.20 291.40 271.86 291.40 286.00 C291.40 300.91 282.00 313.00 270.40 313.00 C258.80 313.00 249.40 300.91 249.40 286.00 Z" fill="#1a2e96"/>
</g>
<g filter="url(#b1)">
<path d="M250.90 286.00 C250.90 272.79 254.80 264.70 270.40 264.70 C286.00 264.70 289.90 272.79 289.90 286.00 C289.90 300.08 281.17 311.50 270.40 311.50 C259.63 311.50 250.90 300.08 250.90 286.00 Z" fill="#7c9cf0"/>
<path d="M253.40 286.40 C253.40 274.87 256.80 267.80 270.40 267.80 C284.00 267.80 287.40 274.87 287.40 286.40 C287.40 298.99 279.79 309.20 270.40 309.20 C261.01 309.20 253.40 298.99 253.40 286.40 Z" fill="#4a6cd4"/>
</g>
<g filter="url(#b2)">
<ellipse cx="258.9" cy="283" rx="4" ry="7" fill="#8aa8ee" opacity="0.6"/>
<ellipse cx="281.9" cy="283" rx="4" ry="7" fill="#8aa8ee" opacity="0.6"/>
<ellipse cx="270.4" cy="294.5" rx="8" ry="5" fill="#8aa8ee" opacity="0.5"/>
<ellipse cx="270.4" cy="301" rx="10" ry="4" fill="#2f4fc4" opacity="0.6"/>
<ellipse cx="269.8" cy="271.8" rx="4.6" ry="5.0" fill="#16237e" opacity="0.8"/>
<ellipse cx="269.8" cy="270.6" rx="1.8" ry="2.2" fill="#0a0f3c" opacity="0.8"/>
<ellipse cx="269.6" cy="278.4" rx="4.6" ry="1.3" fill="#b07a3c" opacity="0.85"/>
<path d="M264.9 286.4 C264.6 284.6 266.6 283.8 268.4 283.4 C269.8 282.0 271.2 281.0 272.6 281.2 C274.0 281.6 274.6 283.4 276.0 284.4 C277.2 285.4 276.8 287.2 275.2 287.4 C272.8 287.0 270.8 286.6 269.4 286.8 C267.8 287.2 265.4 287.8 264.9 286.4 Z" fill="#eaa22c"/>
<path d="M266.1 285.9 C266.0 284.9 267.4 284.6 268.8 284.3 C270.0 283.2 271.2 282.2 272.3 282.4 C273.3 282.8 273.8 284.2 275.0 285.0 C275.8 285.6 275.5 286.3 274.8 286.3 C272.8 286.0 270.8 285.6 269.4 285.8 C268.0 286.1 266.4 286.6 266.1 285.9 Z" fill="#f8f6ee"/>
</g>
<path d="M245.8 281.7 C245.8 328.4 295.8 328.4 295.8 282.3" stroke="#dcdcd6" stroke-width="0.55" fill="none" opacity="0.9"/>
</svg>
<svg x="303.0" y="258.1" width="55.3" height="59.4" viewBox="303.0 258.1 55.3 59.4">
<rect x="302.0" y="257.1" width="57.3" height="61.4" fill="#020203"/>
<g filter="url(#b3)">
<path d="M309.80 285.00 C309.80 270.74 314.11 262.00 329.40 262.00 C344.69 262.00 349.00 270.74 349.00 285.00 C349.00 299.91 340.23 312.00 329.40 312.00 C318.57 312.00 309.80 299.91 309.80 285.00 Z" fill="#1a2e96"/>
</g>
<g filter="url(#b1)">
<path d="M311.30 285.00 C311.30 271.67 315.28 263.50 329.40 263.50 C343.52 263.50 347.50 271.67 347.50 285.00 C347.50 299.08 339.40 310.50 329.40 310.50 C319.40 310.50 311.30 299.08 311.30 285.00 Z" fill="#7c9cf0"/>
<path d="M313.80 285.40 C313.80 273.74 317.23 266.60 329.40 266.60 C341.57 266.60 345.00 273.74 345.00 285.40 C345.00 297.99 338.02 308.20 329.40 308.20 C320.78 308.20 313.80 297.99 313.80 285.40 Z" fill="#4a6cd4"/>
</g>
<g filter="url(#b2)">
<ellipse cx="318.9" cy="281" rx="3.8" ry="6.5" fill="#8aa8ee" opacity="0.6"/>
<ellipse cx="340.2" cy="281" rx="3.8" ry="6.5" fill="#8aa8ee" opacity="0.6"/>
<ellipse cx="329.4" cy="297.5" rx="6.5" ry="4.6" fill="#8aa8ee" opacity="0.55"/>
<ellipse cx="329.4" cy="296.6" rx="2.6" ry="2" fill="#2f4fc4" opacity="0.8"/>
<ellipse cx="327.8" cy="272.4" rx="5.0" ry="4.0" fill="#16237e" opacity="0.8"/>
<ellipse cx="327.8" cy="271.6" rx="2.2" ry="1.8" fill="#0a0f3c" opacity="0.8"/>
<path d="M320.6 283.4 C320.2 280 323 278.2 326 278.6 C328 277.8 331 277.6 333 278.6 C335.6 279.4 336.4 282 336.0 284.6 C335.6 287 333 287.8 330.4 287.2 C327 287.8 321.2 287.4 320.6 283.4 Z" fill="#eaa22c"/>
<path d="M321.9 283.2 C321.6 280.8 323.6 279.6 326.0 279.9 C328 279.2 330.8 279.0 332.6 279.8 C334.6 280.6 335.1 282.4 334.8 284.4 C334.5 286.0 332.6 286.5 330.4 286.0 C327 286.5 322.4 286.2 321.9 283.2 Z" fill="#d9dadc"/>
<ellipse cx="318.1" cy="288.9" rx="2.3" ry="2.3" fill="#eaa22c"/>
<ellipse cx="318.1" cy="288.9" rx="1.2" ry="1.2" fill="#f4f1ea"/>
<ellipse cx="339.4" cy="289.6" rx="3.1" ry="3.6" fill="#eaa22c"/>
<ellipse cx="339.4" cy="289.6" rx="2.0" ry="2.5" fill="#f1efe8"/>
</g>
<path d="M305.3 280.5 C305.3 328.0 354.9 328.0 354.9 279.4" stroke="#dcdcd6" stroke-width="0.55" fill="none" opacity="0.9"/>
</svg>
<text transform="translate(355.3 243.6) scale(0.1)" font-size="42.0" fill="#444" textLength="115.0" lengthAdjust="spacingAndGlyphs">Blood</text>
<text transform="translate(355.3 248.5) scale(0.1)" font-size="42.0" fill="#444" textLength="181.0" lengthAdjust="spacingAndGlyphs">EBV DNA</text>
<text transform="translate(355.3 253.4) scale(0.1)" font-size="42.0" fill="#444" textLength="139.0" lengthAdjust="spacingAndGlyphs">(IU/mL)</text>
<path d="M394.5 34.400000000000006 V101.5 H506.80" stroke="#000" stroke-width="1.5" fill="none" stroke-linejoin="miter"/>
<path d="M391.2 101.50 H394.5" stroke="#000" stroke-width="0.8"/>
<text transform="translate(388.6 103.0) scale(0.1)" font-size="42.0" fill="#222" text-anchor="end">0</text>
<path d="M391.2 90.78 H394.5" stroke="#000" stroke-width="0.8"/>
<text transform="translate(388.6 92.28) scale(0.1)" font-size="42.0" fill="#222" text-anchor="end">1000</text>
<path d="M391.2 80.07 H394.5" stroke="#000" stroke-width="0.8"/>
<text transform="translate(388.6 81.57) scale(0.1)" font-size="42.0" fill="#222" text-anchor="end">2000</text>
<path d="M391.2 69.35 H394.5" stroke="#000" stroke-width="0.8"/>
<text transform="translate(388.6 70.85) scale(0.1)" font-size="42.0" fill="#222" text-anchor="end">3000</text>
<path d="M391.2 58.63 H394.5" stroke="#000" stroke-width="0.8"/>
<text transform="translate(388.6 60.13) scale(0.1)" font-size="42.0" fill="#222" text-anchor="end">4000</text>
<path d="M391.2 47.92 H394.5" stroke="#000" stroke-width="0.8"/>
<text transform="translate(388.6 49.42) scale(0.1)" font-size="42.0" fill="#222" text-anchor="end">5000</text>
<path d="M391.2 37.20 H394.5" stroke="#000" stroke-width="0.8"/>
<text transform="translate(388.6 38.7) scale(0.1)" font-size="42.0" fill="#222" text-anchor="end">6000</text>
<path d="M399.50 97.75 L408.80 101.50 L418.10 101.50 L427.40 101.50 L436.70 101.50 L441.35 100.43 L446.00 99.14 L450.65 100.43 L455.30 101.50 L464.60 101.50 L469.25 101.18 L473.90 100.21 L478.55 101.18 L483.20 101.50 L501.80 101.50" stroke="#1c2a66" stroke-width="1.1" fill="none" stroke-linejoin="round"/>
<path d="M399.50 42.56 L408.80 70.42 L418.10 94.00 L427.40 99.36 L436.70 99.36 L446.00 99.36 L455.30 101.50 L464.60 101.50 L501.80 101.50" stroke="#5aa536" stroke-width="1.05" fill="none" stroke-linejoin="round"/>
<path d="M399.50 97.75 L408.80 97.21 L418.10 85.42 L427.40 69.35 L436.70 40.95 L446.00 75.78 L455.30 80.60 L464.60 91.86 L473.90 76.85 L483.20 84.35 L492.50 92.39 L501.80 66.14" stroke="#b5123a" stroke-width="1.1" fill="none" stroke-linejoin="round"/>
<text transform="translate(399.5 108.6) scale(0.1)" font-size="44.0" fill="#222" text-anchor="middle">1</text>
<text transform="translate(408.8 108.6) scale(0.1)" font-size="44.0" fill="#222" text-anchor="middle">2</text>
<text transform="translate(418.1 108.6) scale(0.1)" font-size="44.0" fill="#222" text-anchor="middle">3</text>
<text transform="translate(427.4 108.6) scale(0.1)" font-size="44.0" fill="#222" text-anchor="middle">4</text>
<text transform="translate(436.7 108.6) scale(0.1)" font-size="44.0" fill="#222" text-anchor="middle">5</text>
<text transform="translate(446.0 108.6) scale(0.1)" font-size="44.0" fill="#222" text-anchor="middle">6</text>
<text transform="translate(455.3 108.6) scale(0.1)" font-size="44.0" fill="#222" text-anchor="middle">7</text>
<text transform="translate(464.6 108.6) scale(0.1)" font-size="44.0" fill="#222" text-anchor="middle">8</text>
<text transform="translate(473.9 108.6) scale(0.1)" font-size="44.0" fill="#222" text-anchor="middle">9</text>
<text transform="translate(483.2 108.6) scale(0.1)" font-size="44.0" fill="#222" text-anchor="middle">10</text>
<text transform="translate(492.5 108.6) scale(0.1)" font-size="44.0" fill="#222" text-anchor="middle">11</text>
<text transform="translate(501.8 108.6) scale(0.1)" font-size="44.0" fill="#222" text-anchor="middle">12</text>
<text transform="translate(450.65 117.9) scale(0.1)" font-size="64.0" fill="#333" text-anchor="middle" textLength="325.0" lengthAdjust="spacingAndGlyphs">Time (months)</text>
<text transform="translate(404.1 45.4) scale(0.1)" font-size="44.0" fill="#5aa536" textLength="200" lengthAdjust="spacingAndGlyphs" stroke="#5aa536" stroke-width="1.0">No.11. CR</text>
<text transform="translate(478.3 64.1) scale(0.1)" font-size="44.0" fill="#b5123a" textLength="320" lengthAdjust="spacingAndGlyphs" stroke="#b5123a" stroke-width="1.0">No.12. CR → PD</text>
<text transform="translate(399.0 92.5) scale(0.1)" font-size="44.0" fill="#3c5aa2" textLength="178.0" lengthAdjust="spacingAndGlyphs" stroke="#3c5aa2" stroke-width="1.0">No.1. CR</text>
<path d="M394.5 143.39999999999998 V210.4 H505.60" stroke="#000" stroke-width="1.5" fill="none" stroke-linejoin="miter"/>
<path d="M391.2 210.40 H394.5" stroke="#000" stroke-width="0.8"/>
<text transform="translate(388.6 211.9) scale(0.1)" font-size="42.0" fill="#222" text-anchor="end">0</text>
<path d="M391.2 194.35 H394.5" stroke="#000" stroke-width="0.8"/>
<text transform="translate(388.6 195.85) scale(0.1)" font-size="42.0" fill="#222" text-anchor="end">3000</text>
<path d="M391.2 178.30 H394.5" stroke="#000" stroke-width="0.8"/>
<text transform="translate(388.6 179.8) scale(0.1)" font-size="42.0" fill="#222" text-anchor="end">6000</text>
<path d="M391.2 162.25 H394.5" stroke="#000" stroke-width="0.8"/>
<text transform="translate(388.6 163.75) scale(0.1)" font-size="42.0" fill="#222" text-anchor="end">9000</text>
<path d="M391.2 146.20 H394.5" stroke="#000" stroke-width="0.8"/>
<text transform="translate(388.6 147.7) scale(0.1)" font-size="42.0" fill="#222" text-anchor="end">12000</text>
<path d="M399.50 196.49 L408.80 199.70 L418.10 198.09 L427.40 203.44 L436.70 168.67 L446.00 170.81 L455.30 194.35 L464.60 178.84 L473.90 201.57 L483.20 201.84 L492.50 195.96 L501.80 199.16" stroke="#5aa536" stroke-width="1.05" fill="none" stroke-linejoin="round"/>
<path d="M399.50 202.91 L408.80 205.59 L418.10 192.21 L427.40 201.84 L436.70 201.31 L446.00 206.12" stroke="#b5123a" stroke-width="1.1" fill="none" stroke-linejoin="round"/>
<path d="M399.50 204.25 L408.80 194.08 L418.10 172.41 L427.40 149.41" stroke="#2b4a9a" stroke-width="1.1" fill="none" stroke-linejoin="round"/>
<text transform="translate(399.5 217.5) scale(0.1)" font-size="44.0" fill="#222" text-anchor="middle">1</text>
<text transform="translate(408.8 217.5) scale(0.1)" font-size="44.0" fill="#222" text-anchor="middle">2</text>
<text transform="translate(418.1 217.5) scale(0.1)" font-size="44.0" fill="#222" text-anchor="middle">3</text>
<text transform="translate(427.4 217.5) scale(0.1)" font-size="44.0" fill="#222" text-anchor="middle">4</text>
<text transform="translate(436.7 217.5) scale(0.1)" font-size="44.0" fill="#222" text-anchor="middle">5</text>
<text transform="translate(446.0 217.5) scale(0.1)" font-size="44.0" fill="#222" text-anchor="middle">6</text>
<text transform="translate(455.3 217.5) scale(0.1)" font-size="44.0" fill="#222" text-anchor="middle">7</text>
<text transform="translate(464.6 217.5) scale(0.1)" font-size="44.0" fill="#222" text-anchor="middle">8</text>
<text transform="translate(473.9 217.5) scale(0.1)" font-size="44.0" fill="#222" text-anchor="middle">9</text>
<text transform="translate(483.2 217.5) scale(0.1)" font-size="44.0" fill="#222" text-anchor="middle">10</text>
<text transform="translate(492.5 217.5) scale(0.1)" font-size="44.0" fill="#222" text-anchor="middle">11</text>
<text transform="translate(501.8 217.5) scale(0.1)" font-size="44.0" fill="#222" text-anchor="middle">12</text>
<text transform="translate(449.75 226.8) scale(0.1)" font-size="64.0" fill="#333" text-anchor="middle" textLength="325.0" lengthAdjust="spacingAndGlyphs">Time (months)</text>
<text transform="translate(431 154.8) scale(0.1)" font-size="44.0" fill="#2b4a9a" textLength="290" lengthAdjust="spacingAndGlyphs" stroke="#2b4a9a" stroke-width="1.0">No.3. PR → PD</text>
<text transform="translate(485.4 191.4) scale(0.1)" font-size="44.0" fill="#5aa536" textLength="195.0" lengthAdjust="spacingAndGlyphs" stroke="#5aa536" stroke-width="1.0">No.14. PR</text>
<text transform="translate(439.6 199.4) scale(0.1)" font-size="44.0" fill="#b5123a" textLength="290" lengthAdjust="spacingAndGlyphs" stroke="#b5123a" stroke-width="1.0">No.8. PR → PD</text>
<path d="M394.5 251.1 V318.0 H504.00" stroke="#000" stroke-width="1.5" fill="none" stroke-linejoin="miter"/>
<path d="M391.2 318.00 H394.5" stroke="#000" stroke-width="0.8"/>
<text transform="translate(388.6 319.5) scale(0.1)" font-size="42.0" fill="#222" text-anchor="end">0</text>
<path d="M391.2 301.98 H394.5" stroke="#000" stroke-width="0.8"/>
<text transform="translate(388.6 303.48) scale(0.1)" font-size="42.0" fill="#222" text-anchor="end">4000</text>
<path d="M391.2 285.95 H394.5" stroke="#000" stroke-width="0.8"/>
<text transform="translate(388.6 287.45) scale(0.1)" font-size="42.0" fill="#222" text-anchor="end">8000</text>
<path d="M391.2 269.93 H394.5" stroke="#000" stroke-width="0.8"/>
<text transform="translate(388.6 271.43) scale(0.1)" font-size="42.0" fill="#222" text-anchor="end">12000</text>
<path d="M391.2 253.90 H394.5" stroke="#000" stroke-width="0.8"/>
<text transform="translate(388.6 255.4) scale(0.1)" font-size="42.0" fill="#222" text-anchor="end">16000</text>
<path d="M403.70 287.95 L422.20 282.34" stroke="#b5123a" stroke-width="1.1" fill="none" stroke-linejoin="round"/>
<path d="M403.70 308.38 L422.20 305.18 L440.70 257.11" stroke="#5aa536" stroke-width="1.05" fill="none" stroke-linejoin="round"/>
<path d="M403.70 318.00 L422.20 314.39 L440.70 259.51" stroke="#4aa3e0" stroke-width="1.05" fill="none" stroke-linejoin="round"/>
<path d="M422.20 318.00 L440.70 309.59 L459.20 261.11" stroke="#6a2a78" stroke-width="1.1" fill="none" stroke-linejoin="round"/>
<path d="M403.70 313.99 L422.20 317.20 L440.70 315.60 L459.20 305.18 L477.70 310.39 L496.20 261.11" stroke="#24407e" stroke-width="1.1" fill="none" stroke-linejoin="round"/>
<text transform="translate(403.7 325.1) scale(0.1)" font-size="44.0" fill="#222" text-anchor="middle">1</text>
<text transform="translate(422.2 325.1) scale(0.1)" font-size="44.0" fill="#222" text-anchor="middle">2</text>
<text transform="translate(440.7 325.1) scale(0.1)" font-size="44.0" fill="#222" text-anchor="middle">3</text>
<text transform="translate(459.2 325.1) scale(0.1)" font-size="44.0" fill="#222" text-anchor="middle">4</text>
<text transform="translate(477.7 325.1) scale(0.1)" font-size="44.0" fill="#222" text-anchor="middle">5</text>
<text transform="translate(496.2 325.1) scale(0.1)" font-size="44.0" fill="#222" text-anchor="middle">6</text>
<text transform="translate(449.75 334.4) scale(0.1)" font-size="64.0" fill="#333" text-anchor="middle" textLength="325.0" lengthAdjust="spacingAndGlyphs">Time (months)</text>
<text transform="translate(421.3 259.1) scale(0.1)" font-size="44.0" fill="#5aa536" textLength="187.0" lengthAdjust="spacingAndGlyphs" stroke="#5aa536" stroke-width="1.0">No.7. PD</text>
<text transform="translate(445.4 256.9) scale(0.1)" font-size="44.0" fill="#4aa3e0" textLength="173.0" lengthAdjust="spacingAndGlyphs" stroke="#4aa3e0" stroke-width="1.0">No.4. PD</text>
<text transform="translate(410.8 278.0) scale(0.1)" font-size="44.0" fill="#b5123a" textLength="173.0" lengthAdjust="spacingAndGlyphs" stroke="#b5123a" stroke-width="1.0">No.2. PD</text>
<text transform="translate(460.8 269.9) scale(0.1)" font-size="44.0" fill="#6a2a78" textLength="196.0" lengthAdjust="spacingAndGlyphs" stroke="#6a2a78" stroke-width="1.0">No.13. PD</text>
<text transform="translate(467.7 287.4) scale(0.1)" font-size="44.0" fill="#24407e" textLength="315.0" lengthAdjust="spacingAndGlyphs" stroke="#24407e" stroke-width="1.0">No.17. SD → PD</text>
</g>
<path d="M0 0 H520 V346 H0 Z M1.15 0.95 V344.3 H518.7 V0.95 Z" fill="#000" fill-rule="evenodd"/>
</svg>
</body></html>
